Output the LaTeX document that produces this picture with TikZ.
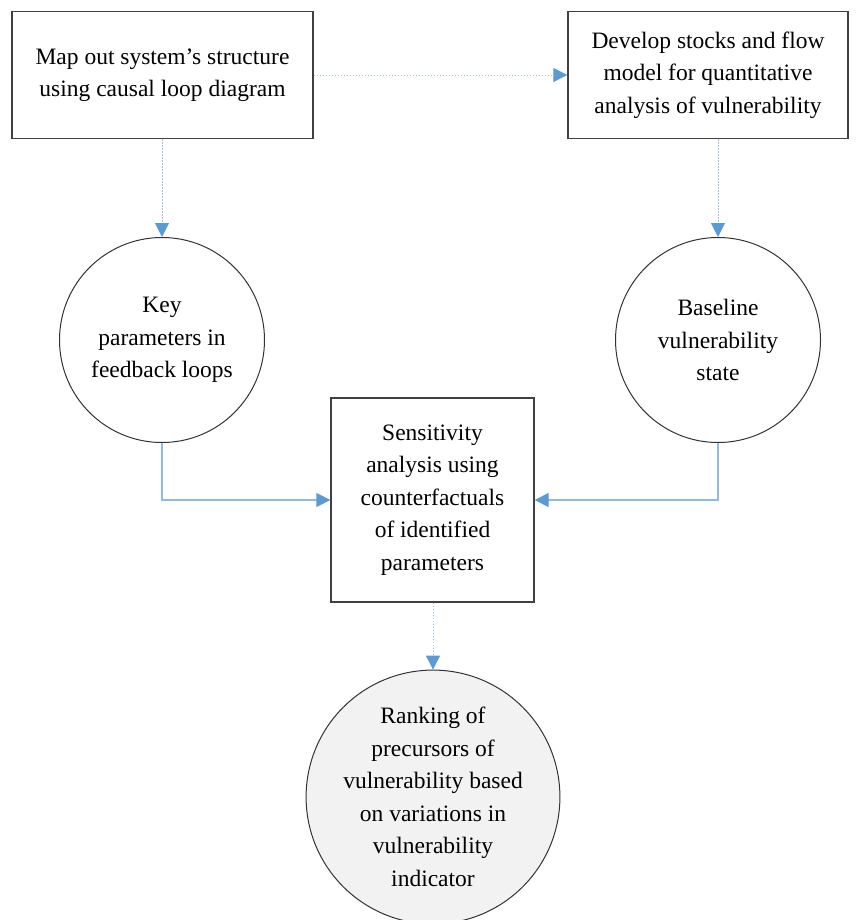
\documentclass[tikz,border=0pt]{standalone}
\usepackage{fontspec}
\setmainfont{Liberation Serif}
\usetikzlibrary{arrows.meta}
\definecolor{arrblue}{HTML}{5B9BD5}
\definecolor{linblue}{HTML}{9DC3E6}
\definecolor{boxgray}{HTML}{404040}
\definecolor{fillgray}{HTML}{F2F2F2}
\begin{document}
\begin{tikzpicture}[x=1pt,y=-1pt,
  txt/.style={font=\fontsize{23.5}{32.5}\selectfont, align=center, text=black},
  boxnode/.style={draw=boxgray, line width=1.3pt, fill=white, inner sep=0pt, txt},
  circnode/.style={circle, draw=black!80, line width=1pt, fill=white, inner sep=0pt, txt},
  dotarrow/.style={draw=linblue, line width=0.9pt, dash pattern=on 1.5pt off 1.5pt, -{Triangle[length=14pt,width=14pt,color=arrblue]}},
  solarrow/.style={draw=linblue!80!arrblue, line width=1.3pt, -{Triangle[length=14pt,width=14pt,color=arrblue]}}
]
\useasboundingbox (0,0) rectangle (860,920);
\node[boxnode, minimum width=301pt, minimum height=127pt] (b1) at (162.5,75) {Map out system's structure\\using causal loop diagram};
\node[boxnode, minimum width=280pt, minimum height=127pt] (b2) at (708,75) {Develop stocks and flow\\model for quantitative\\analysis of vulnerability};
\node[circnode, minimum size=205pt] (c1) at (162,340) {Key\\parameters in\\feedback loops};
\node[circnode, minimum size=205pt] (c2) at (718,340) {Baseline\\vulnerability\\state};
\node[boxnode, minimum width=203pt, minimum height=204pt] (b3) at (432.5,500) {Sensitivity\\analysis using\\counterfactuals\\of identified\\parameters};
\node[circnode, fill=fillgray, minimum size=248pt] (c3) at (433,797) {Ranking of\\precursors of\\vulnerability based\\on variations in\\vulnerability\\indicator};
\draw[dotarrow] (b1.east) -- (b2.west);
\draw[dotarrow] (b1.south -| c1.north) -- (c1.north);
\draw[dotarrow] (b2.south -| c2.north) -- (c2.north);
\draw[dotarrow] (b3.south -| c3.north) -- (c3.north);
\draw[solarrow] (c1.south) |- (b3.west);
\draw[solarrow] (c2.south) |- (b3.east);
\end{tikzpicture}
\end{document}
